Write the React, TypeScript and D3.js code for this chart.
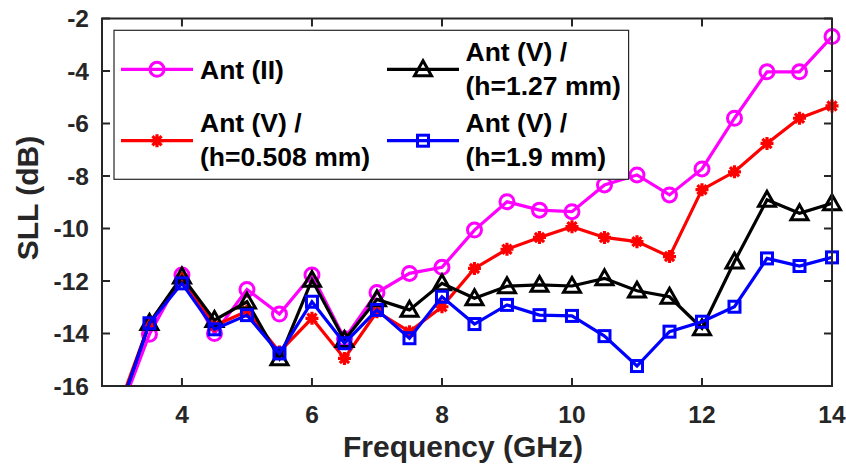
import React from "react";
import * as d3 from "d3";

const freq = [3, 3.5, 4, 4.5, 5, 5.5, 6, 6.5, 7, 7.5, 8, 8.5, 9, 9.5, 10, 10.5, 11, 11.5, 12, 12.5, 13, 13.5, 14];
const antII = [-17.3, -14.03, -11.77, -14.0, -12.32, -13.26, -11.77, -14.2, -12.44, -11.71, -11.48, -10.06, -8.98, -9.3, -9.36, -8.34, -7.96, -8.72, -7.73, -5.8, -4.03, -4.03, -2.69];
const antV0508 = [-17.0, -13.6, -11.9, -13.7, -13.15, -14.7, -13.42, -14.95, -13.17, -13.93, -12.98, -11.52, -10.79, -10.34, -9.93, -10.34, -10.5, -11.07, -8.52, -7.84, -6.76, -5.8, -5.33];
const antV127 = [-17.2, -13.6, -11.83, -13.49, -12.79, -14.95, -11.96, -14.25, -12.7, -13.1, -12.09, -12.66, -12.2, -12.15, -12.19, -11.9, -12.37, -12.6, -13.8, -11.26, -8.91, -9.42, -9.04];
const antV19 = [-17.2, -13.61, -12.09, -13.84, -13.3, -14.76, -12.79, -14.37, -13.1, -14.18, -12.6, -13.64, -12.91, -13.3, -13.33, -14.1, -15.24, -13.93, -13.55, -12.98, -11.14, -11.43, -11.1];

const seriesNames = [["Ant (II)"], ["Ant (V) /", "(h=0.508 mm)"], ["Ant (V) /", "(h=1.27 mm)"], ["Ant (V) /", "(h=1.9 mm)"]];
const seriesColors = ["#ff00ff", "#ff0000", "#000000", "#0000ff"];
const seriesMarkers = ["circle", "asterisk", "triangle", "square"];
const seriesValues = [antII, antV0508, antV127, antV19];

const xTicks = [4, 6, 8, 10, 12, 14];
const yTicks = [-16, -14, -12, -10, -8, -6, -4, -2];

const W = 846, H = 470;
const L = 102, R = 832, T = 18.5, B = 386;
const FONT = "'Liberation Sans', Arial, sans-serif";

function Marker({ kind, x, y, color }: { kind: string; x: number; y: number; color: string }) {
  const sw = 3;
  if (kind === "circle") return <circle cx={x} cy={y} r={7} fill="none" stroke={color} strokeWidth={sw} />;
  if (kind === "square") return <rect x={x - 5.5} y={y - 5.5} width={11} height={11} fill="none" stroke={color} strokeWidth={sw} />;
  if (kind === "triangle") {
    const s = 8.5;
    return <path d={`M${x},${y - s} L${x + s},${y + s * 0.75} L${x - s},${y + s * 0.75} Z`} fill="none" stroke={color} strokeWidth={sw} strokeLinejoin="miter" />;
  }
  const r = 6.5;
  const d = [0, 45, 90, 135].map((a) => {
    const rad = (a * Math.PI) / 180;
    const dx = r * Math.cos(rad), dy = r * Math.sin(rad);
    return `M${x - dx},${y - dy} L${x + dx},${y + dy}`;
  }).join(" ");
  return (
    <g>
      <circle cx={x} cy={y} r={4} fill={color} />
      <path d={d} stroke={color} strokeWidth={3.2} fill="none" />
    </g>
  );
}

export default function App() {
  const x = d3.scaleLinear().domain([2.77, 14]).range([L, R]);
  const y = d3.scaleLinear().domain([-16, -2]).range([B, T]);
  const line = d3.line<number>().x((_, i) => x(freq[i])).y((d) => y(d));
  const axisColor = "#262626";

  const legX = 114, legY = 30.3, legW = 514.6, legH = 149;
  const cols = [{ lx1: 121, lx2: 193, tx: 200 }, { lx1: 387, lx2: 459, tx: 465.5 }];
  const rows = [69.3, 140.7];
  const legendPos = [[0, 0], [0, 1], [1, 0], [1, 1]];
  const LF = 26.5;

  return (
    <svg width={W} height={H} style={{ position: "absolute", left: 0, top: 0, background: "#fff" }} fontFamily={FONT}>
      <defs>
        <clipPath id="plotclip"><rect x={L} y={T} width={R - L} height={B - T} /></clipPath>
      </defs>
      <rect x={0} y={0} width={W} height={H} fill="#fff" />
      {seriesValues.map((vals, si) => (
        <g key={si}>
          <path d={line(vals) || ""} fill="none" stroke={seriesColors[si]} strokeWidth={3.2} clipPath="url(#plotclip)" strokeLinejoin="miter" />
          {vals.map((v, i) => v >= -16 ? (
            <Marker key={i} kind={seriesMarkers[si]} x={x(freq[i])} y={y(v)} color={seriesColors[si]} />
          ) : null)}
        </g>
      ))}
      <rect x={L} y={T} width={R - L} height={B - T} fill="none" stroke={axisColor} strokeWidth={2} />
      {xTicks.map((t) => (
        <g key={"x" + t}>
          <line x1={x(t)} x2={x(t)} y1={B} y2={B - 8} stroke={axisColor} strokeWidth={2} />
          <line x1={x(t)} x2={x(t)} y1={T} y2={T + 8} stroke={axisColor} strokeWidth={2} />
          <text x={x(t)} y={423} textAnchor="middle" fontSize={24.5} fontWeight="bold" fill={axisColor}>{t}</text>
        </g>
      ))}
      {yTicks.map((t) => (
        <g key={"y" + t}>
          <line x1={L} x2={L + 8} y1={y(t)} y2={y(t)} stroke={axisColor} strokeWidth={2} />
          <line x1={R} x2={R - 8} y1={y(t)} y2={y(t)} stroke={axisColor} strokeWidth={2} />
          <text x={89} y={y(t) + 8.8} textAnchor="end" fontSize={24.5} fontWeight="bold" fill={axisColor}>{t}</text>
        </g>
      ))}
      <text x={463} y={457} textAnchor="middle" fontSize={30} fontWeight="bold" fill={axisColor}>Frequency (GHz)</text>
      <text transform={`translate(38,198) rotate(-90)`} textAnchor="middle" fontSize={30} fontWeight="bold" fill={axisColor}>SLL (dB)</text>
      <rect x={legX} y={legY} width={legW} height={legH} fill="#fff" stroke="#262626" strokeWidth={1.2} />
      {seriesNames.map((lines, si) => {
        const [c, r] = legendPos[si];
        const col = cols[c];
        const ly = rows[r];
        const mx = (col.lx1 + col.lx2) / 2;
        return (
          <g key={"leg" + si}>
            <line x1={col.lx1} x2={col.lx2} y1={ly} y2={ly} stroke={seriesColors[si]} strokeWidth={3.2} />
            <Marker kind={seriesMarkers[si]} x={mx} y={ly} color={seriesColors[si]} />
            {lines.length === 1 ? (
              <text x={col.tx} y={79.3} fontSize={LF} fontWeight="bold" fill="#000">{lines[0]}</text>
            ) : (
              <text x={col.tx} fontSize={LF} fontWeight="bold" fill="#000">
                <tspan x={col.tx} y={ly - 8.6}>{lines[0]}</tspan>
                <tspan x={col.tx} y={ly + 25.5}>{lines[1]}</tspan>
              </text>
            )}
          </g>
        );
      })}
    </svg>
  );
}
